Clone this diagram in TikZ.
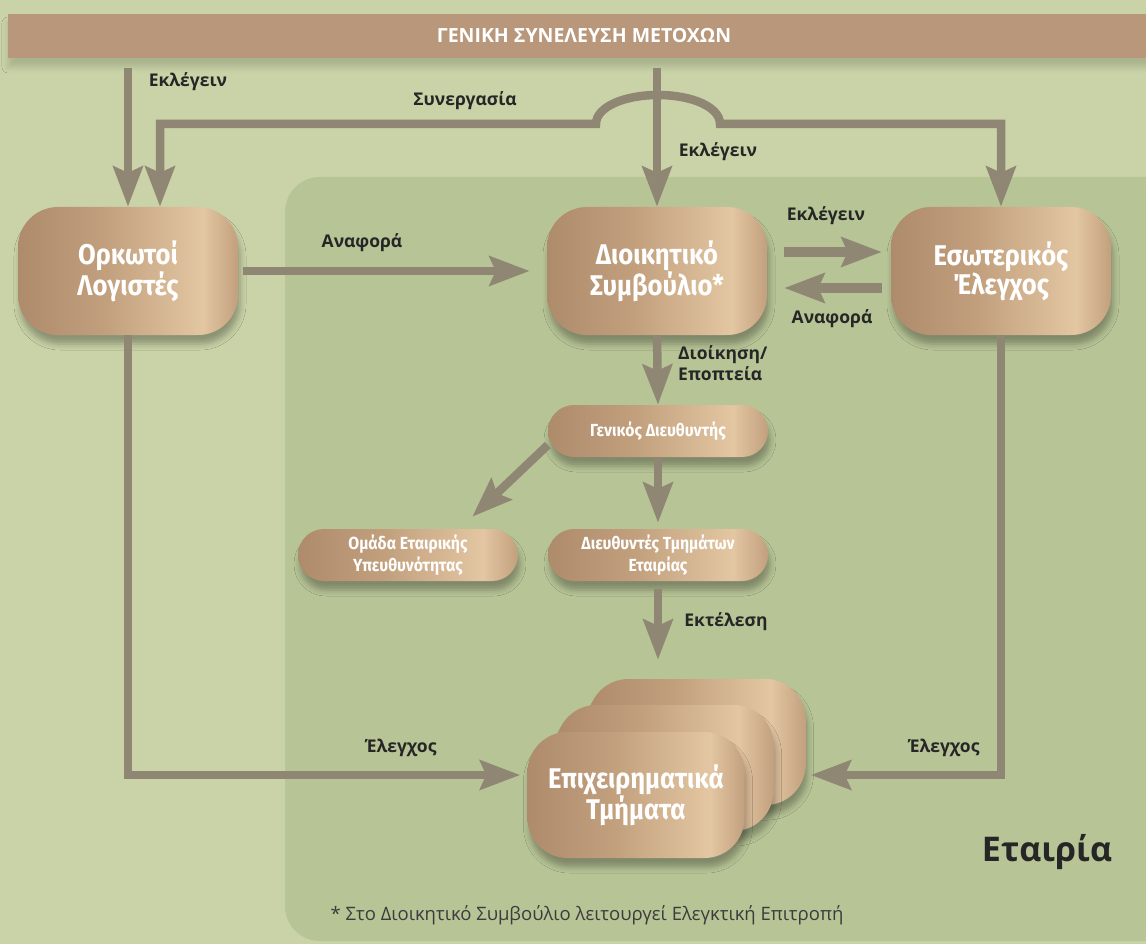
\documentclass[tikz,border=0pt]{standalone}
\usepackage{fontspec}
\setmainfont{Open Sans}
\newfontfamily\condfont[FakeStretch=0.9]{Fira Sans}
\definecolor{bgouter}{HTML}{C9D3A7}
\definecolor{bginner}{HTML}{B7C496}
\definecolor{bartan}{HTML}{B8977A}
\definecolor{arrowgray}{HTML}{8F8673}
\definecolor{tandark}{HTML}{AE8B6B}
\definecolor{tanmid}{HTML}{C2A07E}
\definecolor{tanlight}{HTML}{E3C6A2}
\definecolor{textdark}{HTML}{262626}
\usetikzlibrary{arrows.meta, positioning, shadows, shadows.blur, calc}
\pgfdeclarehorizontalshading{tanshade}{100bp}{color(0bp)=(tandark); color(25bp)=(tandark); color(45bp)=(tanmid); color(67bp)=(tanlight); color(75bp)=(tanmid); color(100bp)=(tanmid)}

\begin{document}
\begin{tikzpicture}[x=1pt, y=-1pt,
	bigbox/.style={shape=rectangle, rounded corners=40pt,
		minimum width=220pt, minimum height=128pt, inner sep=0pt,
		shade, shading=tanshade,
		blur shadow={shadow xshift=2pt, shadow yshift=-9pt,
			shadow blur radius=6pt, shadow opacity=30},
		text=white, align=center,
		font=\condfont\bfseries\fontsize{28.5}{27}\selectfont},
	pillbox/.style={bigbox, rounded corners=26pt, minimum height=52pt,
		font=\condfont\bfseries\fontsize{17.5}{22}\selectfont},
	stackbox/.style={bigbox, minimum width=217pt, minimum height=126pt},
	barbox/.style={shape=rectangle, fill=bartan, minimum width=1152pt,
		minimum height=44pt, text=white,
		blur shadow={shadow xshift=0pt, shadow yshift=-9pt,
			shadow blur radius=6pt, shadow opacity=15},
		font=\bfseries\fontsize{19.5}{22}\selectfont},
	arr/.style={draw=arrowgray, line width=8.5pt,
		-{Stealth[length=40pt, width=29pt, inset=6pt]}},
	lbl/.style={inner sep=0pt, text=textdark,
		font=\bfseries\fontsize{17.5}{21}\selectfont}]

	% background and company area
	\useasboundingbox (0, 0) rectangle (1146, 944);
	\fill[bgouter] (0, 0) rectangle (1146, 944);
	\fill[bginner, rounded corners=35pt] (285, 177) rectangle (1180, 941);

	\node[barbox] at (584, 36) (gsm){ΓΕΝΙΚΗ ΣΥΝΕΛΕΥΣΗ ΜΕΤΟΧΩΝ};

	\node[bigbox] at (128, 271) (ork){Ορκωτοί\\Λογιστές};
	\node[bigbox] at (657, 271) (ds){Διοικητικό\\Συμβούλιο*};
	\node[bigbox] at (1001, 271) (ee){Εσωτερικός\\Έλεγχος};
	\node[pillbox] at (658, 431) (gd){Γενικός Διευθυντής};
	\node[pillbox] at (408, 555) (oey){Ομάδα Εταιρικής\\Υπευθυνότητας};
	\node[pillbox] at (658, 555) (dte){Διευθυντές Τμημάτων\\Εταιρίας};
	\node[stackbox] at (697, 742) (etback){};
	\node[stackbox] at (665, 768) (etmid){};
	\node[stackbox] at (636, 795) (etfront){Επιχειρηματικά\\Τμήματα};

	% connectors
	\draw[arr] ([yshift=-10pt]gsm.south -| ork.north) -- (ork.north);
	\draw[arr] ([yshift=-10pt]gsm.south -| ds.north) -- (ds.north);
	\draw[arr, {Stealth[length=40pt, width=29pt, inset=6pt]}-{Stealth[length=40pt, width=29pt, inset=6pt]}]
		([xshift=32pt]ork.north) |- (596, 124)
		.. controls (596, 107) and (624, 95) .. (658, 95)
		.. controls (692, 95) and (720, 107) .. (720, 124) -| (ee.north);
	\draw[arr] ([xshift=5pt]ork.east) -- ([xshift=-17pt]ds.west);
	\draw[arr, line width=10pt] ([shift={(17pt,19pt)}]ds.east) -- ([shift={(-9pt,19pt)}]ee.west);
	\draw[arr, line width=10pt] ([shift={(-9pt,-17pt)}]ee.west) -- ([shift={(17pt,-17pt)}]ds.east);
	\draw[arr] (ds.south) -- (gd.north);
	\draw[arr] ([yshift=-14pt]gd.west) -- ([shift={(-46pt,12pt)}]oey.north east);
	\draw[arr] (gd.south) -- ([yshift=6pt]dte.north);
	\draw[arr] ([yshift=-8pt]dte.south) -- ([yshift=19pt]dte.south |- etback.north);
	\draw[arr] (ork.south) |- ([shift={(-7pt,20pt)}]etfront.west);
	\draw[arr] (ee.south) |- ([shift={(5pt,-33pt)}]etback.east);

	% labels
	\node[lbl] at (188, 82) (l1){Εκλέγειν};
	\node[lbl] at (465, 101) (l2){Συνεργασία};
	\node[lbl] at (718, 152) (l3){Εκλέγειν};
	\node[lbl] at (362, 243) (l4){Αναφορά};
	\node[lbl] at (826, 216) (l5){Εκλέγειν};
	\node[lbl] at (832, 319) (l6){Αναφορά};
	\node[lbl, anchor=west, align=left] at (678, 363) (l7){Διοίκηση/\\Εποπτεία};
	\node[lbl] at (726, 622) (l8){Εκτέλεση};
	\node[lbl] at (401, 748) (l9){Έλεγχος};
	\node[lbl] at (944, 748) (l10){Έλεγχος};

	\node[inner sep=0pt, text=textdark, font=\bfseries\fontsize{34}{40}\selectfont] at (1047, 852) (co){Εταιρία};
	\node[inner sep=0pt, text=textdark!90, font=\fontsize{18.5}{22}\selectfont] at (587, 915) (fn){* Στο Διοικητικό Συμβούλιο λειτουργεί Ελεγκτική Επιτροπή};
\end{tikzpicture}
\end{document}
